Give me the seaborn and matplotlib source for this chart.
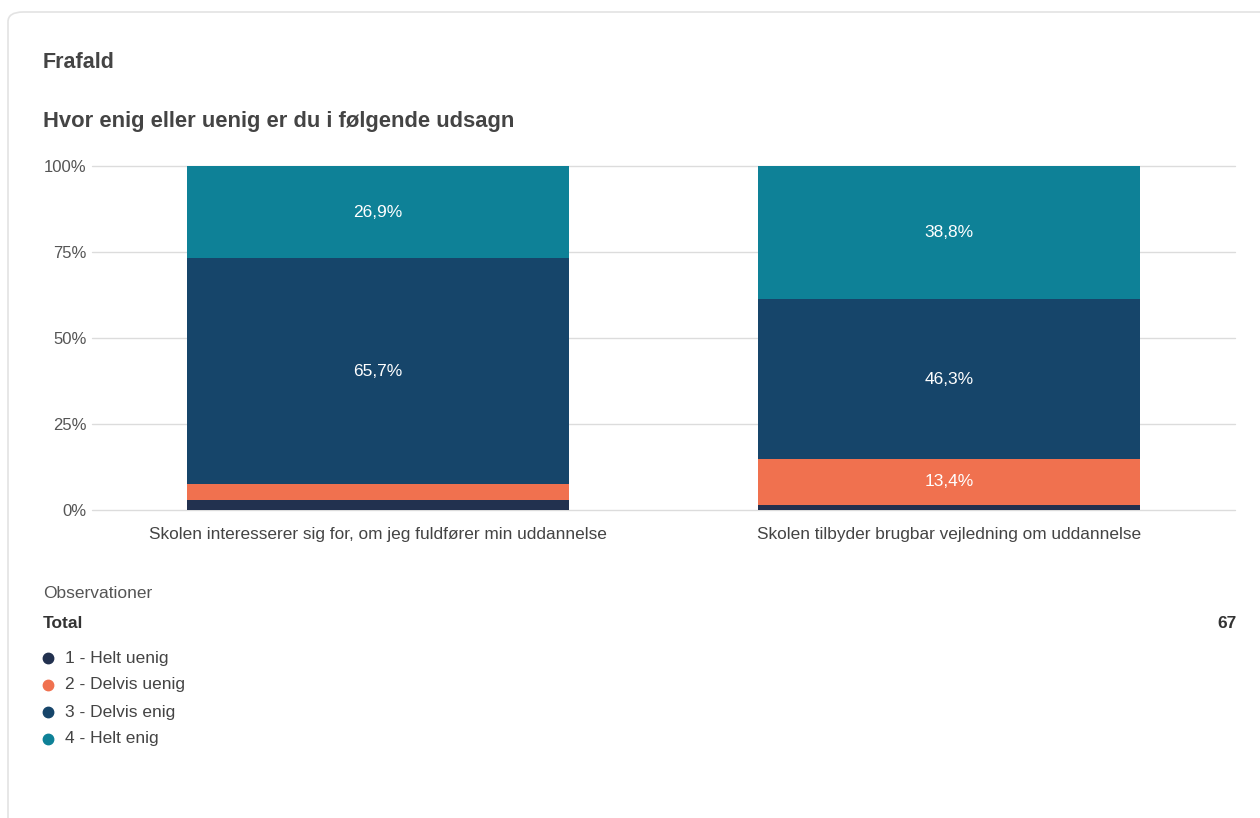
import matplotlib.pyplot as plt
import seaborn as sns
import pandas as pd
from matplotlib.patches import FancyBboxPatch
from matplotlib.lines import Line2D

questions = ["Skolen interesserer sig for, om jeg fuldfører min uddannelse",
             "Skolen tilbyder brugbar vejledning om uddannelse"]
answers = ["1 - Helt uenig", "2 - Delvis uenig", "3 - Delvis enig", "4 - Helt enig"]
# number of answers per question (total 67 each)
counts_q1 = [2, 3, 44, 18]
counts_q2 = [1, 9, 31, 26]
total_obs = 67
colors = ["#22314f", "#f0714f", "#16456a", "#0e8197"]

rows = []
for q, cnts in zip(questions, [counts_q1, counts_q2]):
    for a, c in zip(answers, cnts):
        rows.append({"question": q, "answer": a, "n": c})
df = pd.DataFrame(rows)

sns.set_theme(style="white")
plt.rcParams["font.family"] = ["Liberation Sans", "DejaVu Sans"]

fig = plt.figure(figsize=(12.6, 8.18), dpi=100)
ax = fig.add_axes([92 / 1260, 1 - 510 / 818, (1235 - 92) / 1260, (510 - 166) / 818])

# card border
fig.add_artist(FancyBboxPatch((8 / 1260, -0.05), 1.1, 1 - 12 / 818 + 0.05,
                              boxstyle="round,pad=0,rounding_size=0.012",
                              transform=fig.transFigure, fc="none", ec="#e3e3e3", lw=1.2))

sns.histplot(data=df, x="question", hue="answer", weights="n", hue_order=answers[::-1],
             multiple="fill", discrete=True, shrink=0.668, palette=colors[::-1],
             alpha=1, linewidth=0, legend=False, ax=ax)

for cont in ax.containers:
    labels = []
    for p in cont:
        h = p.get_height()
        labels.append(f"{h * 100:.1f}".replace(".", ",") + "%" if h > 0.1 else "")
    ax.bar_label(cont, labels=labels, label_type="center", color="white", fontsize=12.5)

ax.set_xlim(-0.5, 1.5)
ax.set_ylim(0, 1)
ax.set_yticks([0, 0.25, 0.5, 0.75, 1.0])
ax.set_yticklabels(["0%", "25%", "50%", "75%", "100%"])
ax.yaxis.grid(True, color="#dcdcdc", lw=1)
ax.set_axisbelow(True)
for line in ax.get_ygridlines():
    line.set_clip_on(False)
for s in ax.spines.values():
    s.set_visible(False)
ax.tick_params(axis="y", length=0, pad=4, labelsize=12, labelcolor="#555555")
ax.tick_params(axis="x", length=0, pad=12, labelsize=12.4, labelcolor="#444444")
ax.set_xlabel("")
ax.set_ylabel("")

fig.text(43 / 1260, 1 - 62 / 818, "Frafald", fontsize=15.5, fontweight="bold",
         color="#444444", va="center")
fig.text(43 / 1260, 1 - 121 / 818, "Hvor enig eller uenig er du i følgende udsagn",
         fontsize=15.8, fontweight="bold", color="#444444", va="center")

fig.text(43 / 1260, 1 - 593 / 818, "Observationer", fontsize=12.5, color="#555555", va="center")
fig.text(43 / 1260, 1 - 623 / 818, "Total", fontsize=12.5, fontweight="bold",
         color="#333333", va="center")
fig.text(1237 / 1260, 1 - 623 / 818, str(total_obs), fontsize=12.5, fontweight="bold",
         color="#333333", va="center", ha="right")

for i, (a, c) in enumerate(zip(answers, colors)):
    y = 1 - (658 + 27 * i) / 818
    fig.add_artist(Line2D([48 / 1260], [y], marker="o", color=c, markersize=7.5,
                          transform=fig.transFigure))
    fig.text(65 / 1260, y, a, fontsize=12.5, color="#444444", va="center")

plt.savefig("out.png", dpi=100)
